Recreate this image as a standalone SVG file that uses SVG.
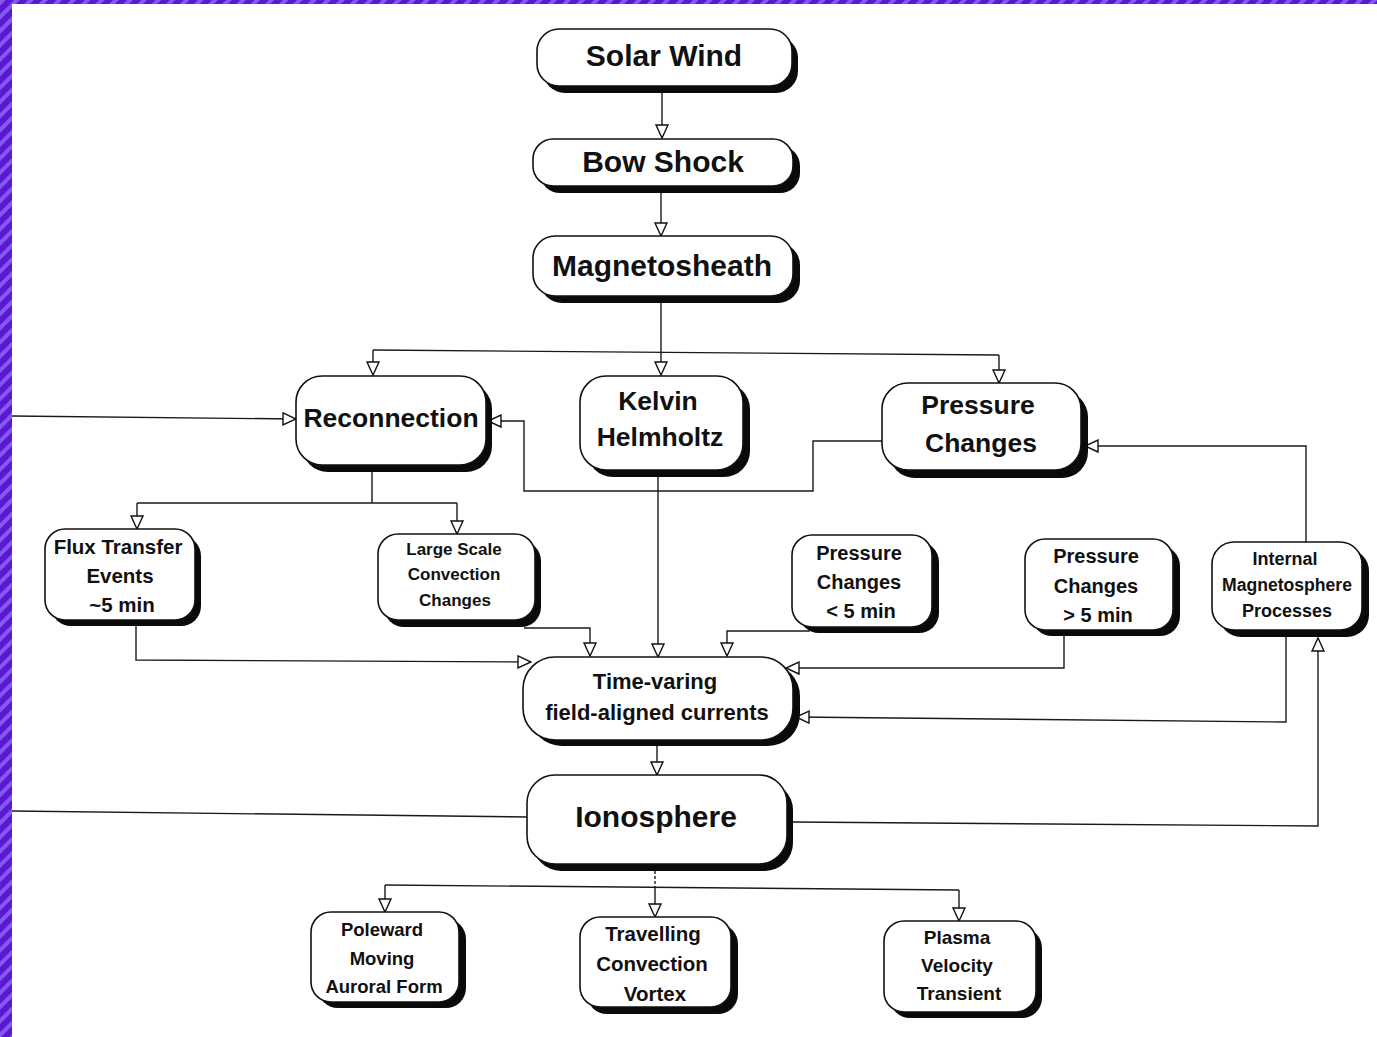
<svg xmlns="http://www.w3.org/2000/svg" width="1377" height="1037" viewBox="0 0 1377 1037">
<defs>
<pattern id="stripes" width="10" height="10" patternUnits="userSpaceOnUse" patternTransform="rotate(45)">
<rect width="10" height="10" fill="#5a18d2"/>
<rect width="4" height="10" fill="#8458f2"/>
</pattern>
<marker id="tri" viewBox="0 0 15 14" refX="14" refY="7" markerWidth="15" markerHeight="14" markerUnits="userSpaceOnUse" orient="auto">
<path d="M1,1 L14,7 L1,13 z" fill="#fff" stroke="#111" stroke-width="1.4" stroke-linejoin="miter"/>
</marker>
<style>
.sh{fill:#0a0a0a}
.bx{fill:#fff;stroke:#111;stroke-width:1.6}
.t{font-family:"Liberation Sans",Arial,sans-serif;font-weight:bold;fill:#111;text-anchor:middle}
.c{fill:none;stroke:#1a1a1a;stroke-width:1.4}
.a{marker-end:url(#tri)}
</style>
</defs>
<rect width="1377" height="1037" fill="#fff"/>
<rect x="0" y="0" width="1377" height="4" fill="url(#stripes)"/>
<rect x="0" y="0" width="12" height="1037" fill="url(#stripes)"/>

<g id="connectors">
<path class="c a" d="M662,93 V138"/>
<path class="c a" d="M661,193 V236"/>
<path class="c a" d="M661,303 V375"/>
<path class="c" d="M373,350 L999,355"/>
<path class="c a" d="M373,350 V375"/>
<path class="c a" d="M999,355 V383"/>
<path class="c a" d="M12,416 L296,419"/>
<path class="c a" d="M882,441 H813 V491 H524 V421 H488"/>
<path class="c" d="M372,470 V503 M137,503 H457"/>
<path class="c a" d="M137,503 V529"/>
<path class="c a" d="M457,503 V534"/>
<path class="c a" d="M136,626 V660 L531,662"/>
<path class="c a" d="M524,628 H590 V656"/>
<path class="c a" d="M658,477 V657"/>
<path class="c a" d="M810,631 H727 V656"/>
<path class="c a" d="M1064,636 V668 H786"/>
<path class="c a" d="M1286,637 V722 L796,717"/>
<path class="c a" d="M1306,542 V446 H1085"/>
<path class="c a" d="M793,822 L1318,826 V638"/>
<path class="c" d="M12,811 L527,817"/>
<path class="c a" d="M657,746 V775"/>
<path class="c" d="M655,871 V887" stroke-dasharray="3,2"/>
<path class="c" d="M385,885 L959,890"/>
<path class="c a" d="M385,885 V912"/>
<path class="c a" d="M655,887 V917"/>
<path class="c a" d="M959,890 V921"/>
</g>

<g id="solar-wind">
<rect class="sh" x="543" y="36" width="255" height="57" rx="22"/>
<rect class="bx" x="537" y="29" width="255" height="57" rx="22"/>
<text class="t" x="664" y="66" font-size="30">Solar Wind</text>
</g>
<g id="bow-shock">
<rect class="sh" x="540" y="146" width="260" height="47" rx="20"/>
<rect class="bx" x="533" y="139" width="260" height="47" rx="20"/>
<text class="t" x="663" y="172" font-size="30">Bow Shock</text>
</g>
<g id="magnetosheath">
<rect class="sh" x="540" y="243" width="260" height="60" rx="22"/>
<rect class="bx" x="533" y="236" width="260" height="60" rx="22"/>
<text class="t" x="662" y="276" font-size="30">Magnetosheath</text>
</g>
<g id="reconnection">
<rect class="sh" x="302" y="383" width="190" height="89" rx="26"/>
<rect class="bx" x="296" y="376" width="190" height="89" rx="26"/>
<text class="t" x="391" y="427" font-size="26.5">Reconnection</text>
</g>
<g id="kelvin-helmholtz">
<rect class="sh" x="587" y="383" width="163" height="94" rx="26"/>
<rect class="bx" x="580" y="376" width="163" height="94" rx="26"/>
<text class="t" x="658" y="410" font-size="26.5">Kelvin</text>
<text class="t" x="660" y="446" font-size="26.5">Helmholtz</text>
</g>
<g id="pressure-changes">
<rect class="sh" x="889" y="391" width="199" height="87" rx="26"/>
<rect class="bx" x="882" y="383" width="199" height="87" rx="26"/>
<text class="t" x="978" y="414" font-size="26.5">Pressure</text>
<text class="t" x="981" y="452" font-size="26.5">Changes</text>
</g>
<g id="flux-transfer-events">
<rect class="sh" x="51" y="536" width="150" height="90" rx="20"/>
<rect class="bx" x="45" y="529" width="150" height="91" rx="20"/>
<text class="t" x="118" y="554" font-size="20.5">Flux Transfer</text>
<text class="t" x="120" y="583" font-size="20.5">Events</text>
<text class="t" x="122" y="612" font-size="20.5">~5 min</text>
</g>
<g id="large-scale-convection">
<rect class="sh" x="384" y="541" width="157" height="86" rx="20"/>
<rect class="bx" x="378" y="534" width="157" height="86" rx="20"/>
<text class="t" x="454" y="555" font-size="17">Large Scale</text>
<text class="t" x="454" y="580" font-size="17">Convection</text>
<text class="t" x="455" y="606" font-size="17">Changes</text>
</g>
<g id="pressure-lt5">
<rect class="sh" x="799" y="542" width="140" height="91" rx="20"/>
<rect class="bx" x="792" y="535" width="140" height="92" rx="20"/>
<text class="t" x="859" y="560" font-size="20">Pressure</text>
<text class="t" x="859" y="589" font-size="20">Changes</text>
<text class="t" x="861" y="618" font-size="20">&lt; 5 min</text>
</g>
<g id="pressure-gt5">
<rect class="sh" x="1032" y="546" width="148" height="90" rx="20"/>
<rect class="bx" x="1025" y="539" width="148" height="91" rx="20"/>
<text class="t" x="1096" y="563" font-size="20">Pressure</text>
<text class="t" x="1096" y="593" font-size="20">Changes</text>
<text class="t" x="1098" y="622" font-size="20">&gt; 5 min</text>
</g>
<g id="internal-magnetosphere">
<rect class="sh" x="1219" y="549" width="150" height="88" rx="22"/>
<rect class="bx" x="1212" y="542" width="150" height="88" rx="22"/>
<text class="t" x="1285" y="565" font-size="18">Internal</text>
<text class="t" x="1287" y="591" font-size="17.6">Magnetosphere</text>
<text class="t" x="1287" y="617" font-size="18">Processes</text>
</g>
<g id="time-varying-fac">
<rect class="sh" x="530" y="664" width="270" height="82" rx="32"/>
<rect class="bx" x="523" y="657" width="270" height="83" rx="32"/>
<text class="t" x="655" y="689" font-size="22">Time-varing</text>
<text class="t" x="657" y="720" font-size="22">field-aligned currents</text>
</g>
<g id="ionosphere">
<rect class="sh" x="533" y="782" width="260" height="89" rx="28"/>
<rect class="bx" x="527" y="775" width="260" height="89" rx="28"/>
<text class="t" x="656" y="827" font-size="30">Ionosphere</text>
</g>
<g id="poleward-moving-auroral-form">
<rect class="sh" x="318" y="919" width="148" height="89" rx="20"/>
<rect class="bx" x="311" y="912" width="148" height="90" rx="20"/>
<text class="t" x="382" y="936" font-size="18.5">Poleward</text>
<text class="t" x="382" y="965" font-size="18.5">Moving</text>
<text class="t" x="384" y="993" font-size="18.5">Auroral Form</text>
</g>
<g id="travelling-convection-vortex">
<rect class="sh" x="587" y="924" width="151" height="90" rx="20"/>
<rect class="bx" x="580" y="917" width="151" height="90" rx="20"/>
<text class="t" x="653" y="941" font-size="20.5">Travelling</text>
<text class="t" x="652" y="971" font-size="20.5">Convection</text>
<text class="t" x="655" y="1001" font-size="20.5">Vortex</text>
</g>
<g id="plasma-velocity-transient">
<rect class="sh" x="890" y="928" width="152" height="90" rx="20"/>
<rect class="bx" x="884" y="921" width="152" height="91" rx="20"/>
<text class="t" x="957" y="944" font-size="19">Plasma</text>
<text class="t" x="957" y="972" font-size="19">Velocity</text>
<text class="t" x="959" y="1000" font-size="19">Transient</text>
</g>
</svg>
